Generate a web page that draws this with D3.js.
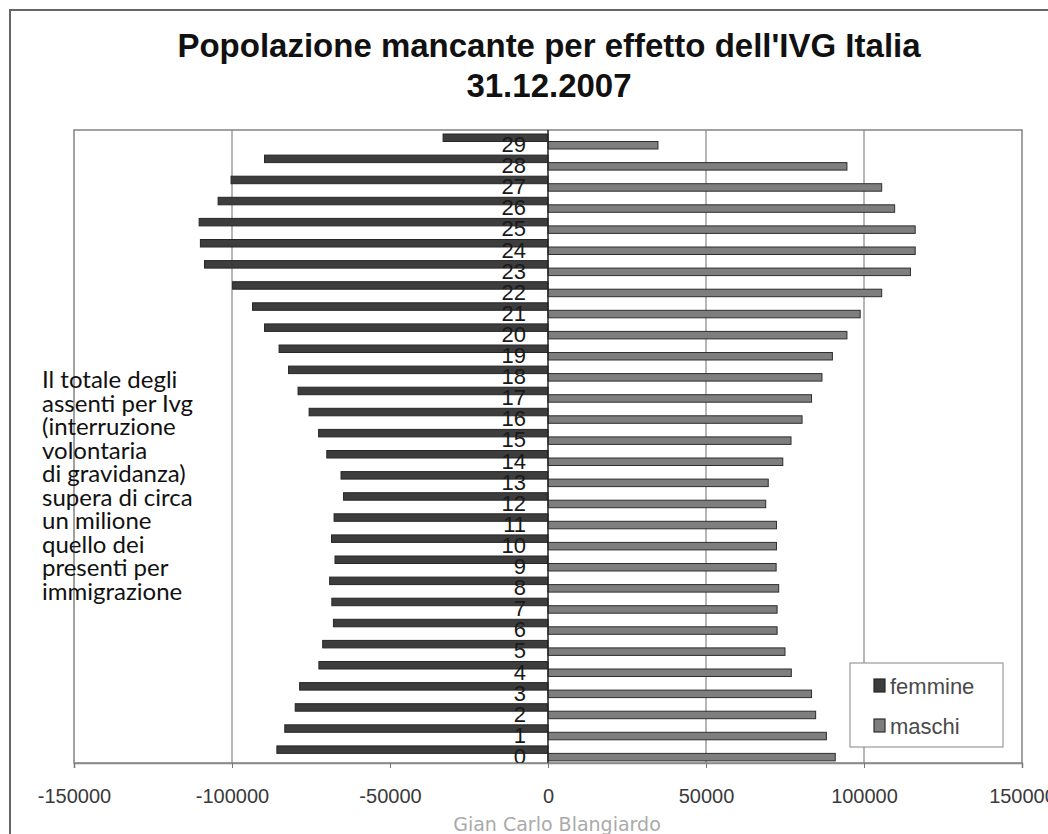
<!DOCTYPE html>
<html>
<head>
<meta charset="utf-8">
<script src="https://cdn.jsdelivr.net/npm/d3@7"></script>
<style>
  html, body { margin: 0; padding: 0; background: #fff; }
  svg { display: block; }
</style>
</head>
<body>
<svg id="chart" width="1048" height="834"></svg>
<script>
// ---- data ----
const titleLines = ["Popolazione mancante per effetto dell'IVG Italia", "31.12.2007"];
const categories = ["0","1","2","3","4","5","6","7","8","9","10","11","12","13","14","15","16","17","18","19","20","21","22","23","24","25","26","27","28","29"];
const seriesNames = ["femmine", "maschi"];
const femmine = [-85800, -83300, -80000, -78600, -72500, -71300, -67900, -68400, -69100, -67400,
                 -68500, -67700, -64700, -65500, -70000, -72600, -75600, -79100, -82100, -85100,
                 -89700, -93500, -99800, -108700, -110000, -110400, -104400, -100300, -89700, -33200];
const maschi = [90900, 88100, 84700, 83400, 77000, 75000, 72500, 72500, 73000, 72200,
                72300, 72300, 68900, 69700, 74300, 76900, 80400, 83400, 86700, 90000,
                94600, 98800, 105600, 114700, 116200, 116200, 109700, 105600, 94600, 34800];
const xTicks = [-150000, -100000, -50000, 0, 50000, 100000, 150000];
const gridValues = [-100000, 50000, 100000];
const noteLines = ["Il totale degli", "assenti per Ivg", "(interruzione", "volontaria",
                   "di gravidanza)", "supera di circa", "un milione", "quello dei",
                   "presenti per", "immigrazione"];
const credit = "Gian Carlo Blangiardo";

// ---- layout ----
const svg = d3.select("#chart");
const plot = { left: 74, right: 1022, top: 130, bottom: 763 };
const colors = { femmine: "#3d3d3d", maschi: "#7e7e7e" };
const strokes = { femmine: "#262626", maschi: "#2e2e2e" };

// outer frame
svg.append("rect").attr("x", 10).attr("y", 10).attr("width", 1100).attr("height", 900)
  .attr("fill", "#fff").attr("stroke", "#666").attr("stroke-width", 2);

// title
svg.append("g").selectAll("text").data(titleLines).join("text")
  .attr("x", 549).attr("y", (d, i) => 57 + i * 40)
  .attr("text-anchor", "middle")
  .attr("font-family", "Liberation Sans, Arial, sans-serif")
  .attr("font-weight", "bold").attr("font-size", 33).attr("fill", "#111")
  .text(d => d);

// scales
const x = d3.scaleLinear().domain([-150000, 150000]).range([plot.left, plot.right]);
const y = d3.scaleBand().domain(categories.slice().reverse()).range([plot.top, plot.bottom]).padding(0);
const inner = d3.scaleBand().domain(seriesNames).range([4, 19]).padding(0);

// gridlines
svg.append("g").selectAll("line").data(gridValues).join("line")
  .attr("x1", d => x(d)).attr("x2", d => x(d))
  .attr("y1", plot.top).attr("y2", plot.bottom)
  .attr("stroke", "#6f6f6f").attr("stroke-width", 1);

// plot border
svg.append("rect").attr("x", plot.left).attr("y", plot.top)
  .attr("width", plot.right - plot.left).attr("height", plot.bottom - plot.top)
  .attr("fill", "none").attr("stroke", "#8a8a8a").attr("stroke-width", 1.6);

// bars
const rows = categories.map((c, i) => ({ cat: c, femmine: femmine[i], maschi: maschi[i] }));
const barG = svg.append("g");
seriesNames.forEach(s => {
  barG.append("g").selectAll("rect").data(rows).join("rect")
    .attr("x", d => Math.min(x(0), x(d[s])))
    .attr("width", d => Math.abs(x(d[s]) - x(0)))
    .attr("y", d => y(d.cat) + inner(s))
    .attr("height", inner.bandwidth())
    .attr("fill", colors[s]).attr("stroke", strokes[s]).attr("stroke-width", 1);
});

// zero axis line
svg.append("line").attr("x1", x(0)).attr("x2", x(0))
  .attr("y1", plot.top).attr("y2", plot.bottom)
  .attr("stroke", "#222").attr("stroke-width", 1.5);

// category labels
svg.append("g").selectAll("text").data(categories).join("text")
  .attr("x", x(0) - 22).attr("y", d => y(d) + 22)
  .attr("text-anchor", "end")
  .attr("font-family", "Liberation Sans, Arial, sans-serif")
  .attr("font-size", 22).attr("fill", "#1a1a1a")
  .text(d => d);

// x axis
const xAxis = d3.axisBottom(x).tickValues(xTicks).tickSize(5).tickPadding(28)
  .tickFormat(d => String(d));
const ax = svg.append("g").attr("transform", `translate(0,${plot.bottom})`).call(xAxis);
ax.select(".domain").attr("stroke", "#8a8a8a").attr("stroke-width", 1.6);
ax.selectAll(".tick line").attr("stroke", "#777");
ax.selectAll(".tick text").attr("font-family", "Liberation Sans, Arial, sans-serif")
  .attr("font-size", 20).attr("fill", "#3a3a3a").attr("dy", "0.35em");

// legend
const lg = svg.append("g");
lg.append("rect").attr("x", 850).attr("y", 663).attr("width", 153).attr("height", 84)
  .attr("fill", "#fff").attr("stroke", "#999").attr("stroke-width", 1.2);
const li = lg.selectAll("g.item").data(seriesNames).join("g").attr("class", "item")
  .attr("transform", (d, i) => `translate(874,${679 + i * 40})`);
li.append("rect").attr("width", 11).attr("height", 13)
  .attr("fill", d => colors[d]).attr("stroke", d => strokes[d]).attr("stroke-width", 1.2);
li.append("text").attr("x", 16).attr("y", 15)
  .attr("font-family", "Liberation Sans, Arial, sans-serif")
  .attr("font-size", 22).attr("fill", "#4a4a4a")
  .text(d => d);

// note text
svg.append("g").selectAll("text").data(noteLines).join("text")
  .attr("x", 42).attr("y", (d, i) => 388 + i * 23.5)
  .attr("font-family", "Lato, 'Open Sans', sans-serif")
  .attr("font-size", 24).attr("fill", "#111")
  .text(d => d);

// credit
svg.append("text").attr("x", 557).attr("y", 831).attr("text-anchor", "middle")
  .attr("font-family", "DejaVu Sans, sans-serif").attr("font-size", 19).attr("fill", "#aaa")
  .text(credit);
</script>
</body>
</html>
